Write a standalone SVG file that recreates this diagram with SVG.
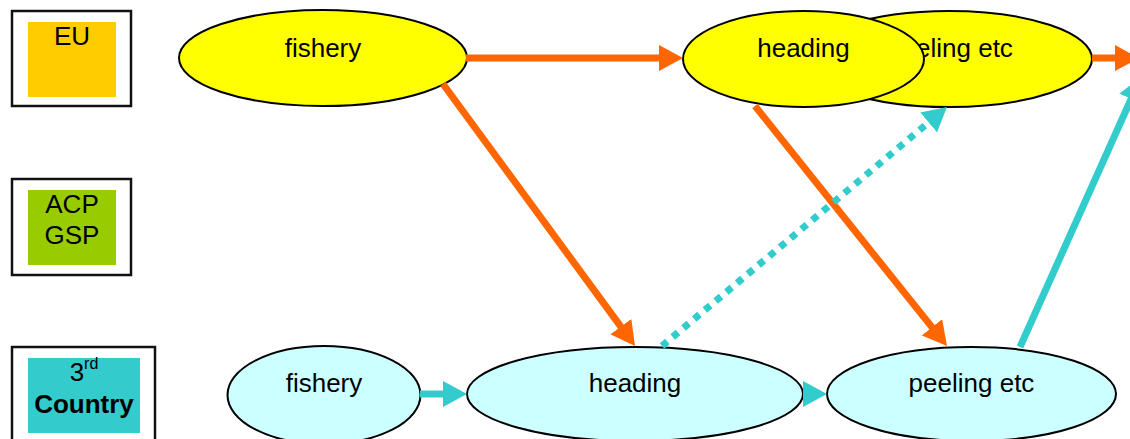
<svg xmlns="http://www.w3.org/2000/svg" width="1130" height="439" viewBox="0 0 1130 439">
  <style>
    .frame { fill: #fff; stroke: #111; stroke-width: 2.5; }
    .lbl { font-family: "Liberation Sans", Arial, sans-serif; font-size: 26px; fill: #000; text-anchor: middle; }
    .node { stroke: #000; stroke-width: 2; }
    .eu { fill: #FFFF00; }
    .third { fill: #CCFFFF; }
    .orange { stroke: #FF6600; stroke-width: 7; fill: none; marker-end: url(#headOrange); }
    .teal { stroke: #33CCCC; stroke-width: 7; fill: none; marker-end: url(#headTeal); }
    .dotted { stroke-dasharray: 7 7; }
  </style>
  <defs>
    <marker id="headOrange" viewBox="0 0 24 26" refX="4" refY="13" markerWidth="24" markerHeight="26" markerUnits="userSpaceOnUse" orient="auto">
      <path d="M0,0 L24,13 L0,26 Z" fill="#FF6600"/>
    </marker>
    <marker id="headTeal" viewBox="0 0 24 26" refX="4" refY="13" markerWidth="24" markerHeight="26" markerUnits="userSpaceOnUse" orient="auto">
      <path d="M0,0 L24,13 L0,26 Z" fill="#33CCCC"/>
    </marker>
  </defs>

  <!-- legend boxes -->
  <g id="legend-eu">
    <rect class="frame" x="12" y="11" width="119" height="95"/>
    <rect x="28" y="22" width="88" height="75" fill="#FFCC00"/>
    <text class="lbl" x="72" y="45">EU</text>
  </g>
  <g id="legend-acp">
    <rect class="frame" x="12" y="179" width="119" height="96"/>
    <rect x="28" y="190" width="88" height="75" fill="#99CC00"/>
    <text class="lbl" x="72" y="213">ACP</text>
    <text class="lbl" x="72" y="244">GSP</text>
  </g>
  <g id="legend-third">
    <rect class="frame" x="12" y="347" width="143" height="100"/>
    <rect x="28" y="358" width="112" height="75" fill="#33CCCC"/>
    <text class="lbl" x="84" y="381"><tspan>3</tspan><tspan font-size="16" dy="-12">rd</tspan></text>
    <text class="lbl" x="84" y="413" font-weight="bold">Country</text>
  </g>

  <!-- EU row -->
  <g id="eu-fishery">
    <ellipse class="node eu" cx="323" cy="58" rx="144" ry="48"/>
    <text class="lbl" x="323" y="57">fishery</text>
  </g>
  <g id="eu-peeling">
    <ellipse class="node eu" cx="949" cy="59" rx="143" ry="48"/>
    <text class="lbl" x="950" y="57">peeling etc</text>
  </g>
  <g id="eu-heading">
    <ellipse class="node eu" cx="803.5" cy="59" rx="120.5" ry="48"/>
    <text class="lbl" x="803.5" y="57">heading</text>
  </g>

  <!-- third-country row -->
  <g id="tc-fishery">
    <ellipse class="node third" cx="324" cy="395" rx="96.5" ry="49"/>
    <text class="lbl" x="324" y="392">fishery</text>
  </g>
  <g id="tc-heading">
    <ellipse class="node third" cx="635" cy="394" rx="168" ry="47"/>
    <text class="lbl" x="635" y="392">heading</text>
  </g>
  <g id="tc-peeling">
    <ellipse class="node third" cx="971.5" cy="394" rx="144.5" ry="47"/>
    <text class="lbl" x="971.5" y="392">peeling etc</text>
  </g>

  <!-- connectors -->
  <g id="connectors">
    <line class="orange" x1="466" y1="58" x2="663" y2="58"/>
    <line class="orange" x1="1092" y1="58" x2="1119" y2="58"/>
    <line class="orange" x1="443" y1="84" x2="623.2" y2="329.9"/>
    <line class="orange" x1="755" y1="106" x2="934.5" y2="330.4"/>
    <line class="teal dotted" x1="662" y1="346" x2="931.7" y2="119.9"/>
    <line class="teal" x1="1020" y1="347" x2="1132.8" y2="95.3"/>
    <line class="teal" x1="420" y1="394" x2="447" y2="394"/>
    <line class="teal" x1="803" y1="394" x2="807" y2="394"/>
  </g>
</svg>
